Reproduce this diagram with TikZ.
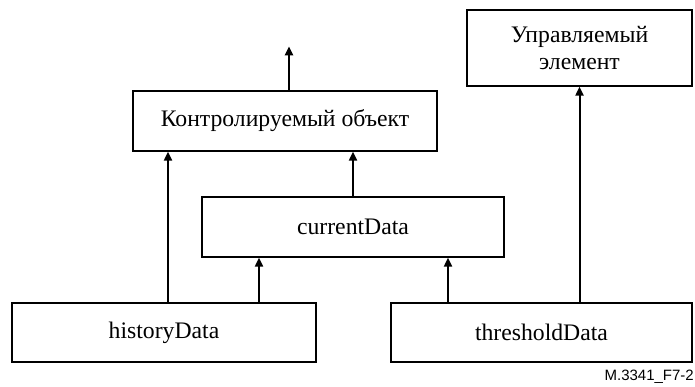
\documentclass[tikz,border=0pt]{standalone}
\usepackage{xcolor}
\usepackage{fontspec}
\setmainfont{Liberation Serif}
\newfontfamily\labelfont{Liberation Sans}
\usepackage{tikz}
\usetikzlibrary{arrows.meta}

\tikzset{
  block/.style={draw, line width=1.3pt, inner sep=0pt, align=center,
    font=\fontsize{23.7}{27}\selectfont},
  arr/.style={line width=2pt, -{Triangle[length=9pt,width=8pt]}}
}

\begin{document}
\begin{tikzpicture}[x=1pt,y=1pt]
\useasboundingbox (0,0) rectangle (695,387);

\node[block, minimum width=304pt, minimum height=60pt] (kontr) at (285,266) {Контролируемый объект};
\node[block, minimum width=225pt, minimum height=76pt] (upr) at (579.5,339) {Управляемый\\элемент};
\node[block, minimum width=302pt, minimum height=60pt] (current) at (353,160) {currentData};
\node[block, minimum width=304pt, minimum height=59pt] (history) at (164,54.5) {historyData};
\node[block, minimum width=301pt, minimum height=59pt] (threshold) at (541.5,54.5) {thresholdData};
\coordinate (out) at ([yshift=44pt]kontr.north);

\draw[arr] ([xshift=4pt]kontr.north) -- ([xshift=4pt]out);
\draw[arr] (current.north) -- (current.north |- kontr.south);
\draw[arr] ([xshift=4pt]history.north) -- ([xshift=4pt]history.north |- kontr.south);
\draw[arr] ([xshift=95pt]history.north) -- ([xshift=95pt]history.north |- current.south);
\draw[arr] ([xshift=-93.5pt]threshold.north) -- ([xshift=-93.5pt]threshold.north |- current.south);
\draw[arr] (threshold.north -| upr.south) -- (upr.south);

\node[anchor=south east, inner sep=0pt, font=\labelfont\fontsize{15}{18}\selectfont] (fig) at (694,3) {M.3341\_F7-2};
\end{tikzpicture}
\end{document}
